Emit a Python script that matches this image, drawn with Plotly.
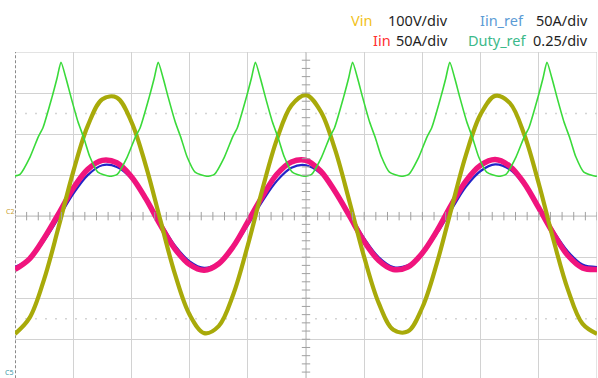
import plotly.graph_objects as go

# ---------------- data ----------------
# time axis: 5 ms/div, 10 divisions
t_ms = [0.0, 1.25, 2.5, 3.75, 5.0, 6.25, 7.5, 8.75, 10.0, 11.25, 12.5, 13.75, 15.0,
        16.25, 17.5, 18.75, 20.0, 21.25, 22.5, 23.75, 25.0, 26.25, 27.5, 28.75, 30.0,
        31.25, 32.5, 33.75, 35.0, 36.25, 37.5, 38.75, 40.0, 41.25, 42.5, 43.75, 45.0,
        46.25, 47.5, 48.75, 50.0]

vin_v = [-287, -248, -154, -26, 108, 220, 285, 289, 230, 122, -11, -142, -240,
         -285, -268, -191, -71, 65, 187, 270, 295, 256, 162, 34, -100,
         -212, -277, -281, -222, -114, 19, 150, 248, 293, 276, 199, 79,
         -57, -179, -262, -287]

iin_a = [-65, -52, -27, 3, 34, 57, 68, 65, 48, 21, -11, -40, -59,
         -66, -58, -37, -7, 24, 51, 66, 68, 55, 30, 0, -31,
         -54, -65, -62, -45, -18, 14, 43, 62, 69, 61, 40, 10,
         -21, -48, -63, -65]

iin_ref_a = [-62, -52, -30, -2, 27, 50, 62, 60, 46, 21, -8, -36, -55,
             -63, -57, -38, -11, 18, 43, 59, 62, 52, 30, 2, -27,
             -50, -62, -60, -46, -21, 8, 36, 55, 63, 57, 38, 11,
             -18, -43, -59, -62]

duty_t = [0.0, 0.43, 1.29, 1.98, 2.41, 3.18, 3.61, 3.95, 4.38, 4.81, 5.41, 5.92, 6.44, 7.12, 8.12,
          8.78, 9.64, 10.33, 10.76, 11.53, 11.96, 12.30, 12.73, 13.16, 13.76, 14.27, 14.79, 15.47, 16.47,
          17.13, 17.99, 18.68, 19.11, 19.88, 20.31, 20.65, 21.08, 21.51, 22.11, 22.62, 23.14, 23.82, 24.82,
          25.48, 26.34, 27.03, 27.46, 28.23, 28.66, 29.00, 29.43, 29.86, 30.46, 30.97, 31.49, 32.17, 33.17,
          33.83, 34.69, 35.38, 35.81, 36.58, 37.01, 37.35, 37.78, 38.21, 38.81, 39.32, 39.84, 40.52, 41.52,
          42.18, 43.04, 43.73, 44.16, 44.93, 45.36, 45.70, 46.13, 46.56, 47.16, 47.67, 48.19, 48.87, 49.87,
          50.0]
duty = [0.245, 0.255, 0.36, 0.48, 0.54, 0.725, 0.84, 0.9375, 0.84, 0.725, 0.575, 0.475, 0.36, 0.268, 0.243,
        0.255, 0.36, 0.48, 0.54, 0.725, 0.84, 0.9375, 0.84, 0.725, 0.575, 0.475, 0.36, 0.268, 0.243,
        0.255, 0.36, 0.48, 0.54, 0.725, 0.84, 0.9375, 0.84, 0.725, 0.575, 0.475, 0.36, 0.268, 0.243,
        0.255, 0.36, 0.48, 0.54, 0.725, 0.84, 0.9375, 0.84, 0.725, 0.575, 0.475, 0.36, 0.268, 0.243,
        0.255, 0.36, 0.48, 0.54, 0.725, 0.84, 0.9375, 0.84, 0.725, 0.575, 0.475, 0.36, 0.268, 0.243,
        0.255, 0.36, 0.48, 0.54, 0.725, 0.84, 0.9375, 0.84, 0.725, 0.575, 0.475, 0.36, 0.268, 0.243,
        0.245]

# channel scales (per division)
VIN_PER_DIV = 100.0
I_PER_DIV = 50.0
DUTY_PER_DIV = 0.25

legend_rows = [
    [("Vin", "#f2c21b"), ("100V/div", "#1e1e1e"), ("Iin_ref", "#5b9bd5"), ("50A/div", "#1e1e1e")],
    [("Iin", "#ff3030"), ("50A/div", "#1e1e1e"), ("Duty_ref", "#3cb98a"), ("0.25/div", "#1e1e1e")],
]

# ---------------- figure ----------------
W, H = 598, 378
L, R, T, B = 15, 1, 52, 0
PW, PH = W - L - R, H - T - B

def px_to_paper(px, py):
    return (px - L) / PW, (H - B - py) / PH

fig = go.Figure()

fig.add_trace(go.Scatter(x=t_ms, y=[v / I_PER_DIV for v in iin_ref_a], mode="lines",
                         line=dict(color="#2323c8", width=2.2, shape="spline", smoothing=1.0),
                         hoverinfo="skip", name="Iin_ref"))
fig.add_trace(go.Scatter(x=t_ms, y=[v / I_PER_DIV for v in iin_a], mode="lines",
                         line=dict(color="#f0147d", width=5.5, shape="spline", smoothing=1.0),
                         hoverinfo="skip", name="Iin"))
fig.add_trace(go.Scatter(x=t_ms, y=[v / VIN_PER_DIV for v in vin_v], mode="lines",
                         line=dict(color="#a8aa0a", width=4.2, shape="spline", smoothing=1.0),
                         hoverinfo="skip", name="Vin"))
fig.add_trace(go.Scatter(x=duty_t, y=[d / DUTY_PER_DIV for d in duty], mode="lines",
                         line=dict(color="#3ada3a", width=1.6, shape="spline", smoothing=0.6),
                         hoverinfo="skip", name="Duty_ref"))

# centre-axis tick marks (minor divisions, 5 per division)
ytick_pos = [k * 0.2 for k in range(-19, 20)]
xtick_pos = [k * 1.0 for k in range(0, 51)]
fig.add_trace(go.Scatter(x=[25] * len(ytick_pos), y=ytick_pos, mode="markers",
                         marker=dict(symbol="line-ew", size=6, line=dict(width=1, color="#a0a0a0")),
                         hoverinfo="skip"))
fig.add_trace(go.Scatter(x=xtick_pos, y=[0] * len(xtick_pos), mode="markers",
                         marker=dict(symbol="line-ns", size=6, line=dict(width=1, color="#a0a0a0")),
                         hoverinfo="skip"))

shapes = [
    dict(type="line", xref="x", yref="y", x0=0, x1=50, y0=4, y1=4,
         line=dict(color="#c8c8c8", width=1), layer="below"),
    dict(type="line", xref="x", yref="y", x0=50, x1=50, y0=-3.95, y1=4,
         line=dict(color="#c8c8c8", width=1), layer="below"),
    dict(type="line", xref="x", yref="y", x0=0, x1=50, y0=0, y1=0,
         line=dict(color="#a8a8a8", width=1), layer="below"),
    dict(type="line", xref="x", yref="y", x0=25, x1=25, y0=-3.95, y1=4,
         line=dict(color="#b0b0b0", width=1), layer="below"),
    dict(type="line", xref="x", yref="y", x0=0, x1=0, y0=-3.95, y1=4,
         line=dict(color="#8a8a8a", width=2, dash="3px,2px"), layer="below"),
    dict(type="line", xref="x", yref="y", x0=0, x1=50, y0=2.5, y1=2.5,
         line=dict(color="#d4d4d4", width=1.5, dash="2px,8px"), layer="below"),
    dict(type="line", xref="x", yref="y", x0=0, x1=50, y0=-2.5, y1=-2.5,
         line=dict(color="#d4d4d4", width=1.5, dash="2px,8px"), layer="below"),
]

annotations = []
# (left x, or right x when anchored right) in page pixels
row_items = [
    [(350, "left"), (387, "left"), (479, "left"), (589, "right")],
    [(372, "left"), (395, "left"), (467, "left"), (589, "right")],
]
row_y = [19.5, 39.5]
for r, row in enumerate(legend_rows):
    for (txt, col), (xpx, anchor) in zip(row, row_items[r]):
        ax, ay = px_to_paper(xpx, row_y[r])
        annotations.append(dict(text=txt, x=ax, y=ay, xref="paper", yref="paper",
                                xanchor=anchor, yanchor="middle", showarrow=False,
                                borderpad=0,
                                font=dict(family="Noto Sans", size=14.5, color=col)))
for txt, col, xpx, ypx in [("C2", "#c9a030", 10, 211), ("C5", "#3a9aa8", 9, 372)]:
    ax, ay = px_to_paper(xpx, ypx)
    annotations.append(dict(text=txt, x=ax, y=ay, xref="paper", yref="paper",
                            xanchor="center", yanchor="middle", showarrow=False,
                            borderpad=0,
                            font=dict(family="Noto Sans", size=7, color=col)))

fig.update_layout(
    width=W, height=H,
    margin=dict(l=L, r=R, t=T, b=B),
    paper_bgcolor="white", plot_bgcolor="white",
    showlegend=False,
    xaxis=dict(range=[0, 50], dtick=5, tick0=0, showgrid=True, gridcolor="#d2d2d2",
               gridwidth=1, zeroline=False, showticklabels=False, ticks="", showline=False,
               fixedrange=True),
    yaxis=dict(range=[-3.944, 4.0], dtick=1, tick0=0, showgrid=True, gridcolor="#d2d2d2",
               gridwidth=1, zeroline=False, showticklabels=False, ticks="", showline=False,
               fixedrange=True),
    shapes=shapes,
    annotations=annotations,
)

# remove the browser's default 8px body margin so the figure sits at the page origin
fig.write_html("out.html",
               config={"displayModeBar": False, "staticPlot": True},
               post_script="document.body.style.margin='0';document.body.style.overflow='hidden';")
